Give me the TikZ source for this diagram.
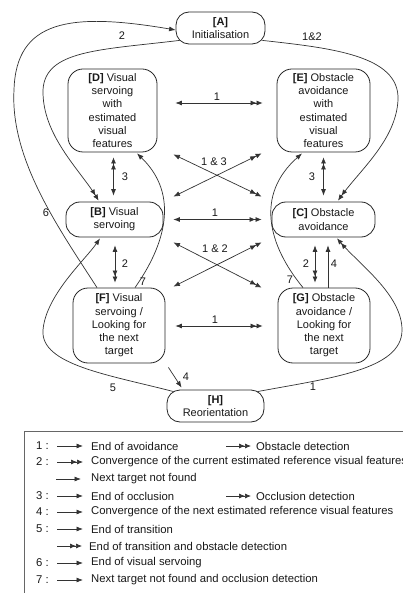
\documentclass[tikz,border=0pt]{standalone}
\usepackage{fontspec}
\setmainfont{Liberation Sans}
\usetikzlibrary{arrows.meta,calc}
\tikzset{
  sA/.tip={Latex[length=6.5pt,width=5pt]},
  dA/.tip={Latex[length=6pt,width=5pt] Latex[length=6pt,width=5pt]},
}
\begin{document}
\begin{tikzpicture}[x=1pt,y=-1pt,
  every node/.style={font=\fontsize{11}{13.2}\selectfont, text=black!90},
  statebox/.style={draw=black!85, line width=0.8pt, align=center, inner sep=0pt, rounded corners=15pt},
  pillbox/.style={statebox, rounded corners=13pt},
  conn/.style={draw=black!80, line width=0.7pt},
  lbl/.style={inner sep=0pt},
  lgtext/.style={inner sep=0pt, anchor=west, font=\fontsize{11.3}{13.5}\selectfont},
]
\useasboundingbox (0,0) rectangle (403,593);
\fill[white] (0,0) rectangle (403,593);

% states
\node[pillbox, minimum width=89pt, minimum height=32pt] (A) at (220.5,28) {\textbf{[A]}\\Initialisation};
\node[statebox, minimum width=89pt, minimum height=83pt] (D) at (112.5,110.5) {\textbf{[D]} Visual\\servoing\\with\\estimated\\visual\\features};
\node[statebox, minimum width=93pt, minimum height=83pt] (E) at (323.5,110.5) {\textbf{[E]} Obstacle\\avoidance\\with\\estimated\\visual\\features};
\node[pillbox, rounded corners=14pt, minimum width=97pt, minimum height=35pt] (B) at (114.5,219.5) {\textbf{[B]} Visual\\servoing};
\node[pillbox, rounded corners=14pt, minimum width=103pt, minimum height=35pt] (C) at (323.5,219.5) {\textbf{[C]} Obstacle\\avoidance};
\node[statebox, minimum width=92pt, minimum height=75pt] (F) at (119,325.5) {\textbf{[F]} Visual\\servoing /\\Looking for\\the next\\target};
\node[statebox, minimum width=92pt, minimum height=75pt] (G) at (324,325.5) {\textbf{[G]} Obstacle\\avoidance /\\Looking for\\the next\\target};
\node[pillbox, minimum width=97pt, minimum height=32pt] (H) at (215.5,406) {\textbf{[H]}\\Reorientation};

% horizontal
\draw[conn,{sA}-{dA}] ($(D.east)+(18,-7.5)$) -- ($(E.west)+(-14,-7.5)$);
\draw[conn,{sA}-{dA}] ($(B.east)+(10,0)$) -- ($(C.west)+(-10,0)$);
\draw[conn,{sA}-{dA}] ($(F.east)+(10,0.5)$) -- ($(G.west)+(-15,0.5)$);
% crosses
\draw[conn,{sA}-{dA}] ($(D.south east)+(16,2)$) -- ($(C.north west)+(-10,-5)$);
\draw[conn,{sA}-{dA}] ($(B.north east)+(10,-5)$) -- ($(E.south west)+(-15,1)$);
\draw[conn,{sA}-{dA}] ($(B.south east)+(10,5)$) -- ($(G.north west)+(-16,0)$);
\draw[conn,{sA}-{dA}] ($(F.north east)+(8,-1)$) -- ($(C.south west)+(-10,5)$);
% vertical
\draw[conn,{dA}-{sA}] ($(D.south)+(1,5)$) -- ($(B.north)+(-1,-6)$);
\draw[conn,{sA}-{dA}] ($(B.south)+(0.5,8)$) -- ($(F.north)+(-4,-5)$);
\draw[conn,{dA}-{sA}] ($(E.south)+(0,5)$) -- ($(C.north)+(0,-6)$);
\draw[conn,{sA}-{dA}] ($(C.south)+(-8.5,8)$) -- ($(G.north)+(-9,-5)$);
\draw[conn,-{sA}] ($(G.north)+(4,0)$) -- ($(C.south)+(4.5,8)$);
% curves
\draw[conn,-{dA}] ($(A.south west)+(4,-4)$) .. controls (100,50) and (45,50) .. (43,90) .. controls (42,135) and (80,170) .. ($(B.north west)+(33,-1)$);
\draw[conn,-{sA}] ($(F.north)+(-22,0)$) .. controls (60,230) and (10,160) .. (14,90) .. controls (16,20) and (70,12) .. ($(A.west)+(0,2)$);
\draw[conn,-{sA}] ($(F.north)+(16,0)$) .. controls (165,245) and (180,195) .. ($(D.south)+(24.5,1)$);
\draw[conn,-{sA}] ($(G.north)+(-21,0)$) .. controls (268,245) and (255,195) .. ($(E.south)+(-21.5,1)$);
\draw[conn,-{dA}] ($(A.south east)+(-3,-4)$) .. controls (330,48) and (400,55) .. (398,100) .. controls (396,140) and (360,170) .. ($(C.north)+(14.5,-1)$);
\draw[conn,-{sA}] ($(H.north west)+(7,2)$) .. controls (110,375) and (40,365) .. (43,330) .. controls (46,295) and (85,260) .. ($(B.south)+(-14.5,1)$);
\draw[conn,-{dA}] ($(H.north east)+(-7,2)$) .. controls (330,378) and (402,370) .. (402,330) .. controls (402,295) and (360,265) .. ($(C.south)+(13.5,1)$);
\coordinate (f4) at ($(F.south east)+(3,4)$);
\draw[conn,-{sA}] (f4) -- ($(H.north west)+(15,-2)$);

% connector labels
\node[lbl] (l1) at (217,97) {1};
\node[lbl] (l2) at (215,213) {1};
\node[lbl] (l3) at (215,320) {1};
\node[lbl] (l4) at (214,162) {1 \& 3};
\node[lbl] (l5) at (215,249) {1 \& 2};
\node[lbl] (l6) at (125,177) {3};
\node[lbl] (l7) at (312,177) {3};
\node[lbl] (l8) at (125,264) {2};
\node[lbl] (l9) at (306,264) {2};
\node[lbl] (l10) at (334,264) {4};
\node[lbl] (l11) at (143,282) {7};
\node[lbl] (l12) at (290,280) {7};
\node[lbl] (l13) at (186,377) {4};
\node[lbl] (l14) at (122,36) {2};
\node[lbl] (l15) at (312,37) {1\&2};
\node[lbl] (l16) at (46,213) {6};
\node[lbl] (l17) at (113,388) {5};
\node[lbl] (l18) at (313,387) {1};

% legend
\draw[draw=black!60, line width=0.9pt] (24,431) rectangle (420,610);
\node[lgtext] (n1) at (36,446) {1 :};
\draw[conn,-{sA}] (57,446) -- (83,446);
\node[lgtext] (t1) at (91,446) {End of avoidance};
\draw[conn,-{dA}] (226,446) -- (251,446);
\node[lgtext] (t1b) at (256,446) {Obstacle detection};
\node[lgtext] (n2) at (36,462) {2 :};
\draw[conn,-{dA}] (57,462) -- (83,462);
\node[lgtext] (t2) at (91,462) {Convergence of the current estimated reference visual features};
\draw[conn,-{sA}] (56,479) -- (81,479);
\node[lgtext] (t2b) at (91,479) {Next target not found};
\node[lgtext] (n3) at (36,496) {3 :};
\draw[conn,-{sA}] (57,496) -- (83,496);
\node[lgtext] (t3) at (91,496) {End of occlusion};
\draw[conn,-{dA}] (226,496) -- (251,496);
\node[lgtext] (t3b) at (256,496) {Occlusion detection};
\node[lgtext] (n4) at (36,512) {4 :};
\draw[conn,-{sA}] (57,512) -- (83,512);
\node[lgtext] (t4) at (91,512) {Convergence of the next estimated reference visual features};
\node[lgtext] (n5) at (36,529) {5 :};
\draw[conn,-{sA}] (57,529) -- (83,529);
\node[lgtext] (t5) at (91,529) {End of transition};
\draw[conn,-{dA}] (57,546) -- (82,546);
\node[lgtext] (t5b) at (89,546) {End of transition and obstacle detection};
\node[lgtext] (n6) at (36,563) {6 :};
\draw[conn,-{sA}] (57,563) -- (83,563);
\node[lgtext] (t6) at (91,563) {End of visual servoing};
\node[lgtext] (n7) at (36,580) {7 :};
\draw[conn,-{sA}] (57,580) -- (83,580);
\node[lgtext] (t7) at (91,580) {Next target not found and occlusion detection};
\end{tikzpicture}
\end{document}
